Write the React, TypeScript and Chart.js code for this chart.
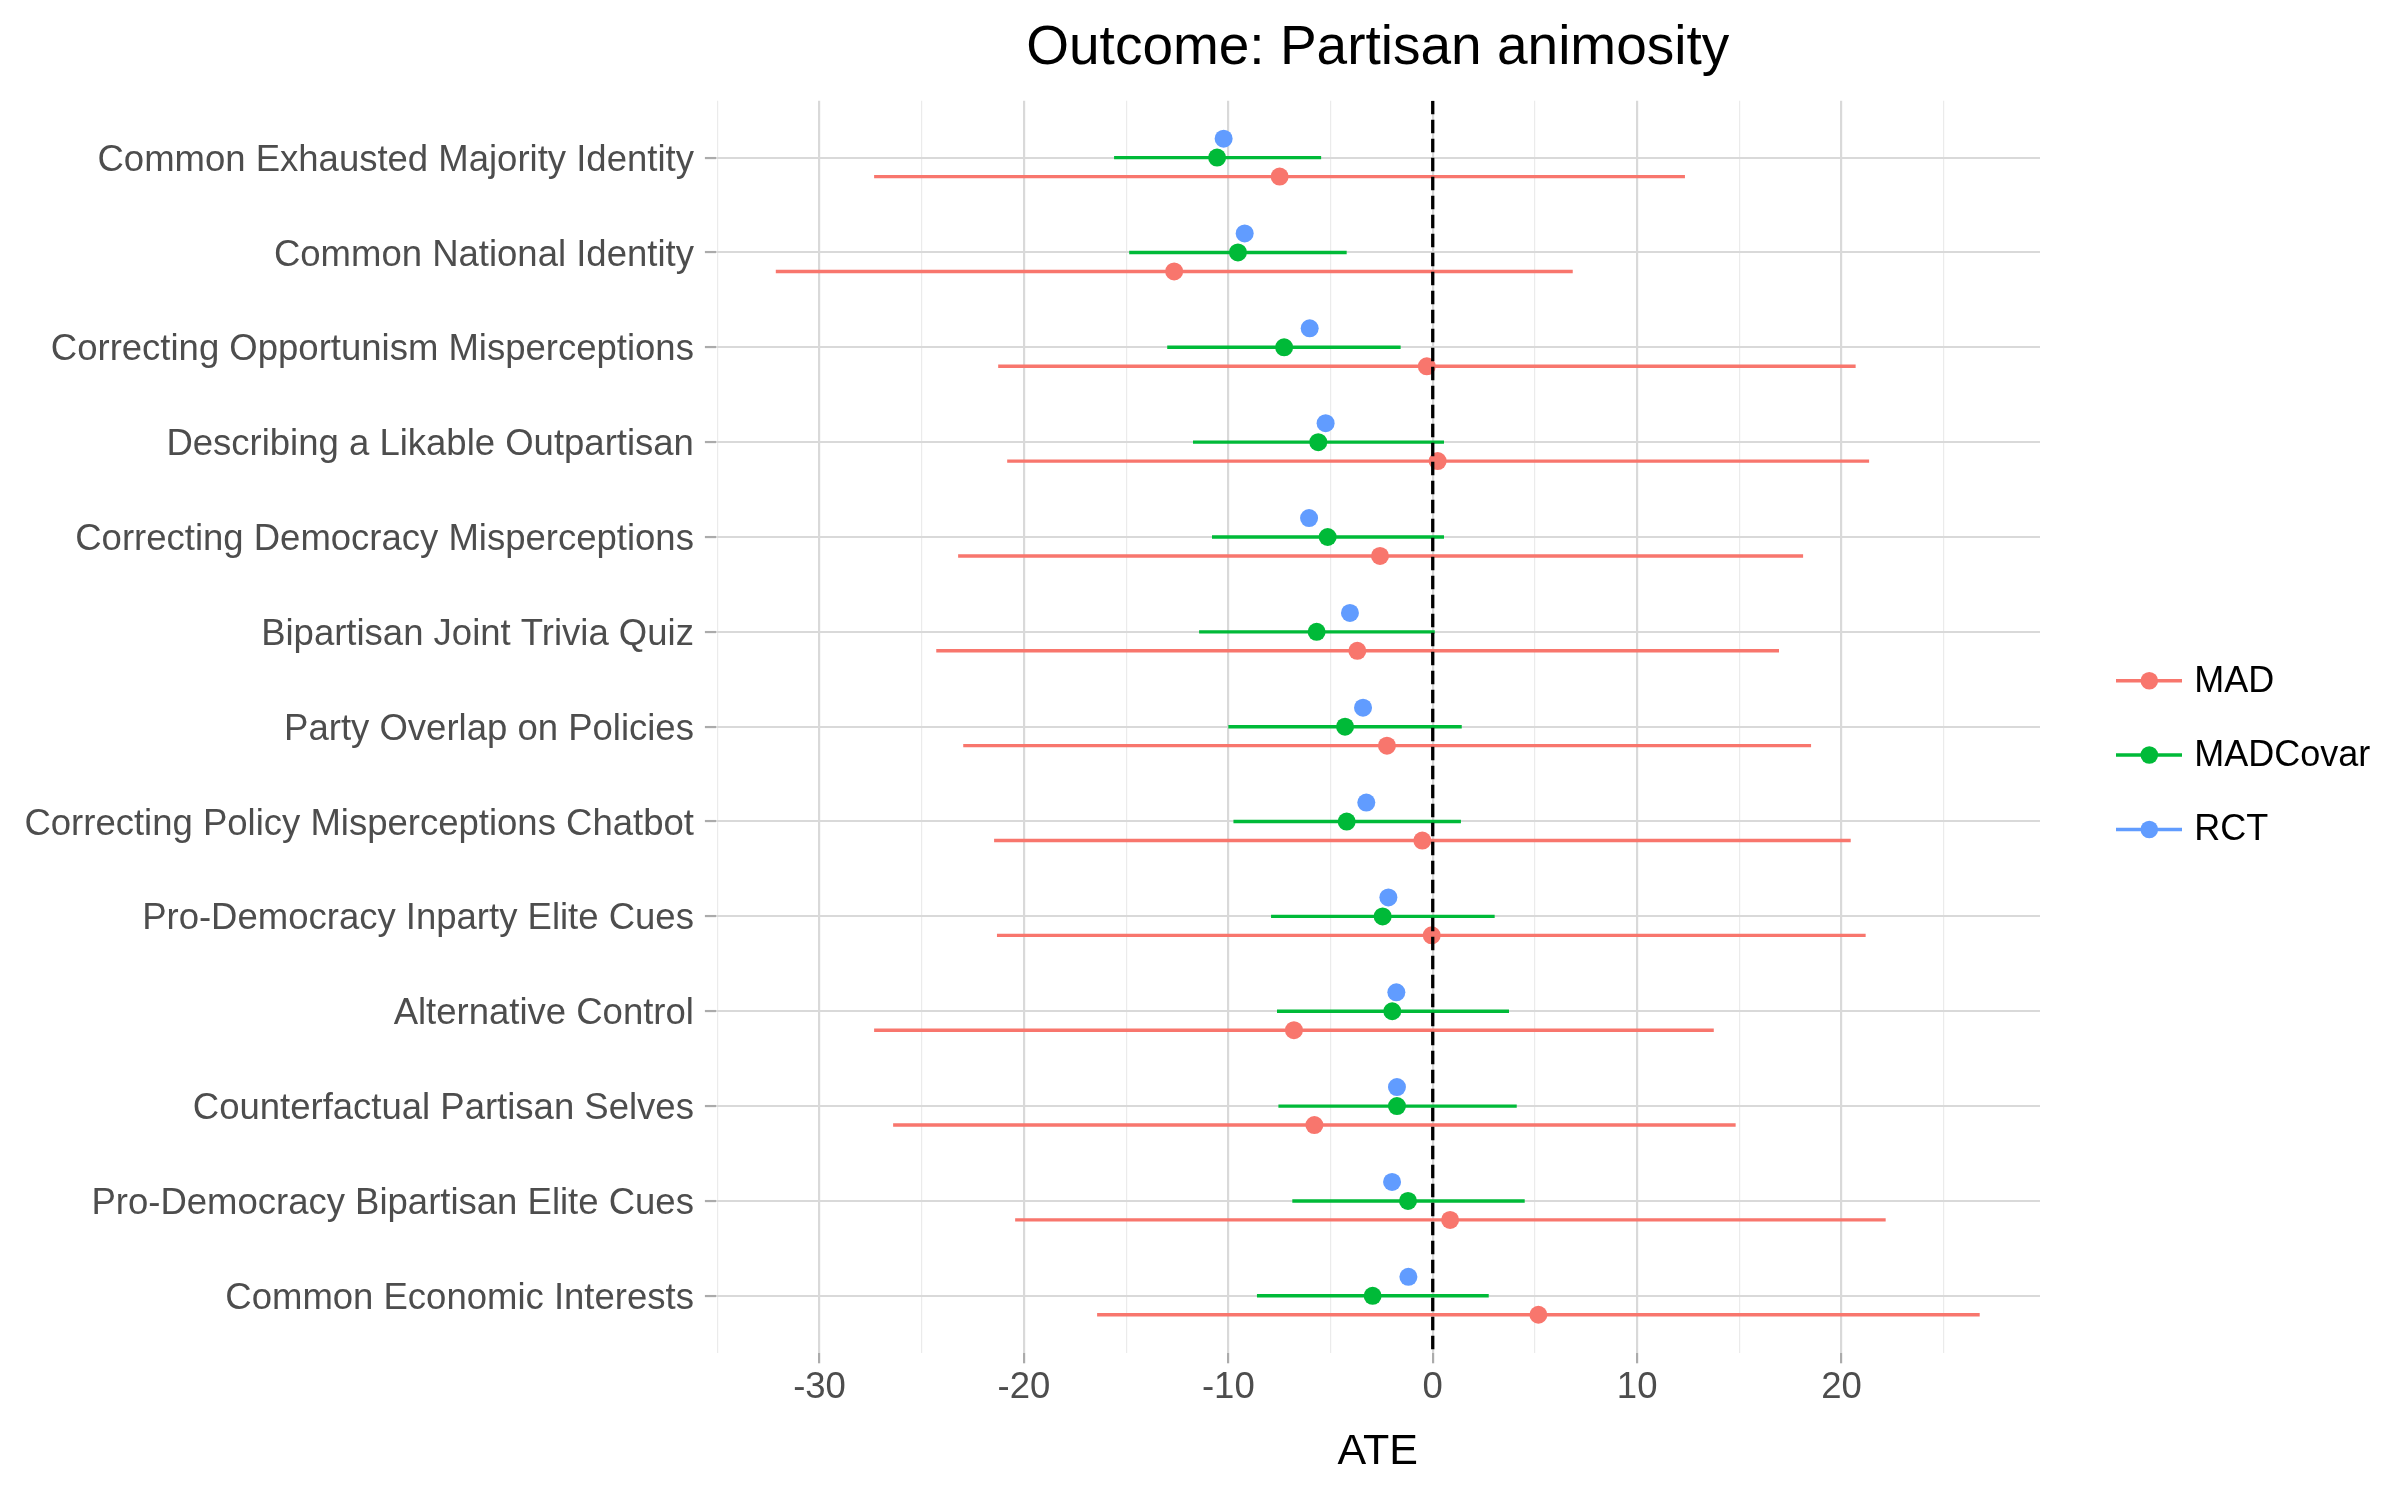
import React, { useEffect, useRef } from "react";
import { Chart, registerables } from "chart.js";

Chart.register(...registerables);

const TITLE = "Outcome: Partisan animosity";
const X_LABEL = "ATE";

const categories = [
  "Common Exhausted Majority Identity",
  "Common National Identity",
  "Correcting Opportunism Misperceptions",
  "Describing a Likable Outpartisan",
  "Correcting Democracy Misperceptions",
  "Bipartisan Joint Trivia Quiz",
  "Party Overlap on Policies",
  "Correcting Policy Misperceptions Chatbot",
  "Pro-Democracy Inparty Elite Cues",
  "Alternative Control",
  "Counterfactual Partisan Selves",
  "Pro-Democracy Bipartisan Elite Cues",
  "Common Economic Interests",
];

const seriesNames = ["MAD", "MADCovar", "RCT"];
const seriesColors = ["#F8766D", "#00BA38", "#619CFF"];

const madEst = [-7.49, -12.65, -0.29, 0.24, -2.58, -3.69, -2.24, -0.51, -0.05, -6.79, -5.79, 0.85, 5.17];
const madLo = [-27.33, -32.14, -21.26, -20.82, -23.22, -24.29, -22.97, -21.46, -21.32, -27.33, -26.4, -20.43, -16.42];
const madHi = [12.34, 6.85, 20.69, 21.35, 18.12, 16.94, 18.51, 20.45, 21.18, 13.75, 14.82, 22.16, 26.76];

const covEst = [-10.55, -9.53, -7.27, -5.6, -5.14, -5.68, -4.29, -4.21, -2.45, -1.98, -1.75, -1.21, -2.94];
const covLo = [-15.59, -14.85, -12.99, -11.73, -10.8, -11.43, -10.0, -9.75, -7.91, -7.62, -7.55, -6.87, -8.6];
const covHi = [-5.46, -4.21, -1.57, 0.55, 0.55, 0.1, 1.42, 1.38, 3.03, 3.73, 4.11, 4.5, 2.74];

const rctEst = [-10.23, -9.2, -6.02, -5.24, -6.05, -4.05, -3.41, -3.25, -2.17, -1.78, -1.75, -1.99, -1.19];

const dodge = [0.2, 0, -0.2];
const majorXTicks = [-30, -20, -10, 0, 10, 20];
const minorXTicks = [-35, -25, -15, -5, 5, 15, 25];
const referenceX = 0;
const xMin = -35.09;
const xMax = 29.71;

const FONT = "'Liberation Sans', Arial, Helvetica, sans-serif";

function intervalData(lo: number[], hi: number[], off: number) {
  const out: any[] = [];
  lo.forEach((l, i) => {
    out.push({ x: l, y: i + off });
    out.push({ x: hi[i], y: i + off });
    out.push({ x: hi[i], y: null });
  });
  return out;
}

function pointData(est: number[], off: number) {
  return est.map((v, i) => ({ x: v, y: i + off }));
}

const legendPlugin = {
  id: "ggLegend",
  afterDraw(chart: any) {
    const ctx = chart.ctx;
    const area = chart.chartArea;
    const x0 = area.right + 76;
    const ys = [680.7, 755, 829.5];
    ctx.save();
    seriesNames.forEach((name, i) => {
      const y = ys[i];
      ctx.strokeStyle = seriesColors[i];
      ctx.lineWidth = 3.4;
      ctx.lineCap = "butt";
      ctx.beginPath();
      ctx.moveTo(x0, y);
      ctx.lineTo(x0 + 66, y);
      ctx.stroke();
      ctx.fillStyle = seriesColors[i];
      ctx.beginPath();
      ctx.arc(x0 + 33.3, y, 8.8, 0, Math.PI * 2);
      ctx.fill();
      ctx.fillStyle = "#000000";
      ctx.font = `36px ${FONT}`;
      ctx.textAlign = "left";
      ctx.textBaseline = "middle";
      ctx.fillText(name, x0 + 78.3, y + 1);
    });
    ctx.restore();
  },
};

export default function App() {
  const ref = useRef<HTMLCanvasElement>(null);

  useEffect(() => {
    if (!ref.current) return;
    const yMin = -0.6;
    const yMax = categories.length - 1 + 0.6;
    const chart = new Chart(ref.current, {
      type: "line",
      data: {
        datasets: [
          {
            type: "line",
            label: "zero",
            data: [
              { x: referenceX, y: yMin },
              { x: referenceX, y: yMax },
            ],
            borderColor: "#000000",
            borderWidth: 3.3,
            borderDash: [13.5, 5.5],
            pointRadius: 0,
            order: 0,
          },
          {
            type: "line",
            label: "MAD interval",
            data: intervalData(madLo, madHi, dodge[0]),
            borderColor: seriesColors[0],
            borderWidth: 3.4,
            borderCapStyle: "butt",
            pointRadius: 0,
            spanGaps: false,
            order: 3,
          },
          {
            type: "line",
            label: "MADCovar interval",
            data: intervalData(covLo, covHi, dodge[1]),
            borderColor: seriesColors[1],
            borderWidth: 3.4,
            borderCapStyle: "butt",
            pointRadius: 0,
            spanGaps: false,
            order: 3,
          },
          {
            type: "scatter",
            label: "MAD",
            data: pointData(madEst, dodge[0]),
            backgroundColor: seriesColors[0],
            borderWidth: 0,
            pointRadius: 9,
            pointHoverRadius: 9,
            order: 1,
          },
          {
            type: "scatter",
            label: "MADCovar",
            data: pointData(covEst, dodge[1]),
            backgroundColor: seriesColors[1],
            borderWidth: 0,
            pointRadius: 9,
            pointHoverRadius: 9,
            order: 1,
          },
          {
            type: "scatter",
            label: "RCT",
            data: pointData(rctEst, dodge[2]),
            backgroundColor: seriesColors[2],
            borderWidth: 0,
            pointRadius: 9,
            pointHoverRadius: 9,
            order: 1,
          },
        ] as any,
      },
      options: {
        responsive: false,
        animation: false,
        devicePixelRatio: 1,
        layout: { padding: { left: 0, right: 360, top: 0, bottom: 0 } },
        plugins: {
          legend: { display: false },
          tooltip: { enabled: false },
          title: {
            display: true,
            text: TITLE,
            fullSize: false,
            color: "#000000",
            font: { family: FONT, size: 55, weight: "normal", lineHeight: 1.2 },
            padding: { top: 16, bottom: 18.7 },
          },
        },
        scales: {
          x: {
            type: "linear",
            min: xMin,
            max: xMax,
            border: { display: false },
            afterBuildTicks: (scale: any) => {
              scale.ticks = [...majorXTicks, ...minorXTicks]
                .sort((a, b) => a - b)
                .map((v) => ({ value: v }));
            },
            afterFit: (scale: any) => {
              scale.height = 147.3;
            },
            grid: {
              color: (c: any) => (c.tick && majorXTicks.includes(c.tick.value) ? "#D9D9D9" : "#EBEBEB"),
              lineWidth: (c: any) => (c.tick && majorXTicks.includes(c.tick.value) ? 2.2 : 1.2),
              tickColor: (c: any) => (c.tick && majorXTicks.includes(c.tick.value) ? "#ABABAB" : "rgba(0,0,0,0)"),
              tickWidth: 2.2,
              tickLength: 10.6,
              drawTicks: true,
            },
            ticks: {
              autoSkip: false,
              maxRotation: 0,
              padding: 3,
              color: "#4D4D4D",
              font: { family: FONT, size: 36.5 },
              callback: (v: any) => (majorXTicks.includes(Number(v)) ? String(v) : ""),
            },
            title: {
              display: true,
              text: X_LABEL,
              color: "#000000",
              font: { family: FONT, size: 43, lineHeight: 1.2 },
              padding: { top: 0, bottom: 22 },
            },
          },
          y: {
            type: "linear",
            min: yMin,
            max: yMax,
            reverse: true,
            border: { display: false },
            afterBuildTicks: (scale: any) => {
              scale.ticks = categories.map((_, i) => ({ value: i }));
            },
            afterFit: (scale: any) => {
              scale.width = 715.5;
            },
            grid: {
              color: "#D9D9D9",
              lineWidth: 2.1,
              tickColor: "#ABABAB",
              tickWidth: 2.2,
              tickLength: 10.6,
              drawTicks: true,
            },
            ticks: {
              autoSkip: false,
              padding: 11,
              labelOffset: 3,
              color: "#4D4D4D",
              font: { family: FONT, size: 36.5 },
              callback: (v: any) => categories[Number(v)] ?? "",
            },
          },
        },
      } as any,
      plugins: [legendPlugin],
    });
    return () => chart.destroy();
  }, []);

  return (
    <div style={{ position: "absolute", left: 0, top: 0, width: 2400, height: 1500, background: "#ffffff" }}>
      <canvas ref={ref} width={2400} height={1500} style={{ display: "block", width: 2400, height: 1500 }} />
    </div>
  );
}
